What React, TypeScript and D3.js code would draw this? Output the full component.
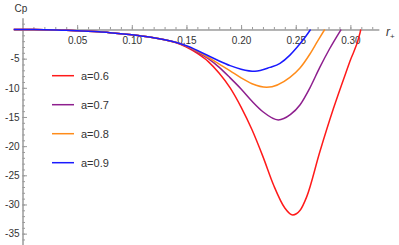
import { useRef, useEffect } from "react";
import * as d3 from "d3";

// r+ sample points and Cp readings for each curve
const rA06 = [-0.008, 0, 0.02, 0.04, 0.05, 0.06, 0.07, 0.08, 0.09, 0.1, 0.11, 0.12, 0.13, 0.14, 0.15, 0.16, 0.17, 0.18, 0.19, 0.2, 0.21, 0.22, 0.23, 0.24, 0.2472, 0.254, 0.26, 0.272, 0.2844, 0.2996, 0.3088, 0.3095];
const cpA06 = [0, 0, -0.03, -0.12, -0.2, -0.29, -0.4, -0.55, -0.72, -0.92, -1.14, -1.4, -1.75, -2.25, -3.0, -4.1, -5.5, -7.5, -10.0, -13.3, -17.2, -21.8, -26.8, -30.6, -31.8, -31.0, -28.7, -21.0, -13.6, -5.45, -0.6, 0];
const rA07 = [-0.008, 0, 0.02, 0.04, 0.05, 0.06, 0.07, 0.08, 0.09, 0.1, 0.11, 0.12, 0.13, 0.14, 0.15, 0.16, 0.17, 0.18, 0.19, 0.2, 0.21, 0.22, 0.234, 0.245, 0.254, 0.263, 0.272, 0.281, 0.2915];
const cpA07 = [0, 0, -0.03, -0.12, -0.2, -0.29, -0.4, -0.55, -0.72, -0.92, -1.14, -1.4, -1.75, -2.2, -2.9, -3.9, -5.0, -6.5, -8.3, -10.2, -12.3, -14.1, -15.5, -14.6, -12.9, -10.0, -6.5, -3.3, 0];
const rA08 = [-0.008, 0, 0.02, 0.04, 0.05, 0.06, 0.07, 0.08, 0.09, 0.1, 0.11, 0.12, 0.13, 0.14, 0.15, 0.16, 0.17, 0.18, 0.19, 0.2, 0.21, 0.2234, 0.2447, 0.2539, 0.263, 0.27, 0.2765];
const cpA08 = [0, 0, -0.03, -0.12, -0.2, -0.29, -0.4, -0.55, -0.72, -0.92, -1.14, -1.4, -1.75, -2.2, -2.85, -3.75, -4.8, -5.95, -7.1, -8.3, -9.3, -9.9, -8.2, -6.6, -4.2, -2.0, 0];
const rA09 = [-0.008, 0, 0.02, 0.04, 0.05, 0.06, 0.07, 0.08, 0.09, 0.1, 0.11, 0.12, 0.13, 0.14, 0.15, 0.16, 0.17, 0.18, 0.19, 0.2, 0.2127, 0.2264, 0.2356, 0.2447, 0.251, 0.2575, 0.2636];
const cpA09 = [0, 0, -0.03, -0.12, -0.2, -0.29, -0.4, -0.55, -0.72, -0.92, -1.14, -1.4, -1.75, -2.2, -2.8, -3.6, -4.5, -5.4, -6.2, -6.8, -7.17, -6.5, -5.8, -4.4, -3.1, -1.6, 0];

const seriesNames = ["a=0.6", "a=0.7", "a=0.8", "a=0.9"];
const seriesColors = ["#ff1a1a", "#8e1f8e", "#ff8c1a", "#1a1aff"];
const xMajorTicks = [0.05, 0.1, 0.15, 0.2, 0.25, 0.3];
const yMajorTicks = [-5, -10, -15, -20, -25, -30, -35];

export default function App() {
  const ref = useRef<SVGSVGElement>(null);
  useEffect(() => {
    if (!ref.current) return;
    const svg = d3.select(ref.current);
    svg.selectAll("*").remove();
    const W = 399, H = 245;
    svg.attr("width", W).attr("height", H);
    const font = "'Liberation Sans', Arial, sans-serif";

    const x = d3.scaleLinear().domain([-0.008, 0.326]).range([13.76, 378.8]);
    const y = d3.scaleLinear().domain([2, -37]).range([17.83, 245.3]);

    const series = [
      { r: rA06, cp: cpA06 },
      { r: rA07, cp: cpA07 },
      { r: rA08, cp: cpA08 },
      { r: rA09, cp: cpA09 },
    ].map((s, i) => ({ name: seriesNames[i], color: seriesColors[i], pts: s.r.map((r, j) => [r, s.cp[j]] as [number, number]) }));

    // x axis (minor + major)
    const gx = svg.append("g").attr("transform", `translate(0,${y(0)})`);
    gx.append("g").call(d3.axisBottom(x).tickValues(d3.range(1, 33).map(d => d / 100)).tickSizeInner(-2.5).tickSizeOuter(0).tickFormat(() => ""));
    gx.append("g").call(d3.axisBottom(x).tickValues(xMajorTicks).tickSizeInner(-4.5).tickSizeOuter(0).tickPadding(7).tickFormat(d3.format(".2f")));

    // y axis (minor + major)
    const gy = svg.append("g").attr("transform", `translate(${x(0)},0)`);
    gy.append("g").call(d3.axisLeft(y).tickValues(d3.range(-36, 2).filter(d => d !== 0)).tickSizeInner(-2.5).tickSizeOuter(0).tickFormat(() => ""));
    gy.append("g").call(d3.axisLeft(y).tickValues(yMajorTicks).tickSizeInner(-4.5).tickSizeOuter(0).tickPadding(3).tickFormat(d => String(d)));

    svg.selectAll(".domain").attr("stroke", "#9a9a9a");
    svg.selectAll(".tick line").attr("stroke", "#9a9a9a");
    svg.selectAll(".tick text").attr("fill", "#333").attr("font-size", "10px").attr("font-family", font);

    // curves
    const line = d3.line<[number, number]>().x(d => x(d[0])).y(d => y(d[1])).curve(d3.curveMonotoneX);
    svg.append("g").selectAll("path").data(series).join("path")
      .attr("d", d => line(d.pts)).attr("fill", "none").attr("stroke", d => d.color).attr("stroke-width", 1.5);

    // axis labels
    svg.append("text").attr("x", 21).attr("y", 12).attr("text-anchor", "middle")
      .attr("font-size", "10px").attr("font-family", font).attr("fill", "#333").text("Cp");
    const rl = svg.append("text").attr("x", 386).attr("y", 36).attr("font-size", "12px").attr("font-family", font).attr("fill", "#333");
    rl.append("tspan").attr("font-style", "italic").text("r");
    rl.append("tspan").attr("font-size", "8px").attr("dy", 3).text("+");

    // legend
    const lg = svg.append("g").selectAll("g").data(series).join("g")
      .attr("transform", (_d, i) => `translate(52,${75.7 + i * 29})`);
    lg.append("line").attr("x1", 0).attr("x2", 22).attr("stroke", d => d.color).attr("stroke-width", 1.5);
    lg.append("text").attr("x", 29).attr("y", 4).attr("font-size", "11px").attr("font-family", font).attr("fill", "#333").text(d => d.name);
  }, []);

  return (
    <div style={{ position: "absolute", left: 0, top: 0 }}>
      <svg ref={ref} style={{ display: "block" }} />
    </div>
  );
}
